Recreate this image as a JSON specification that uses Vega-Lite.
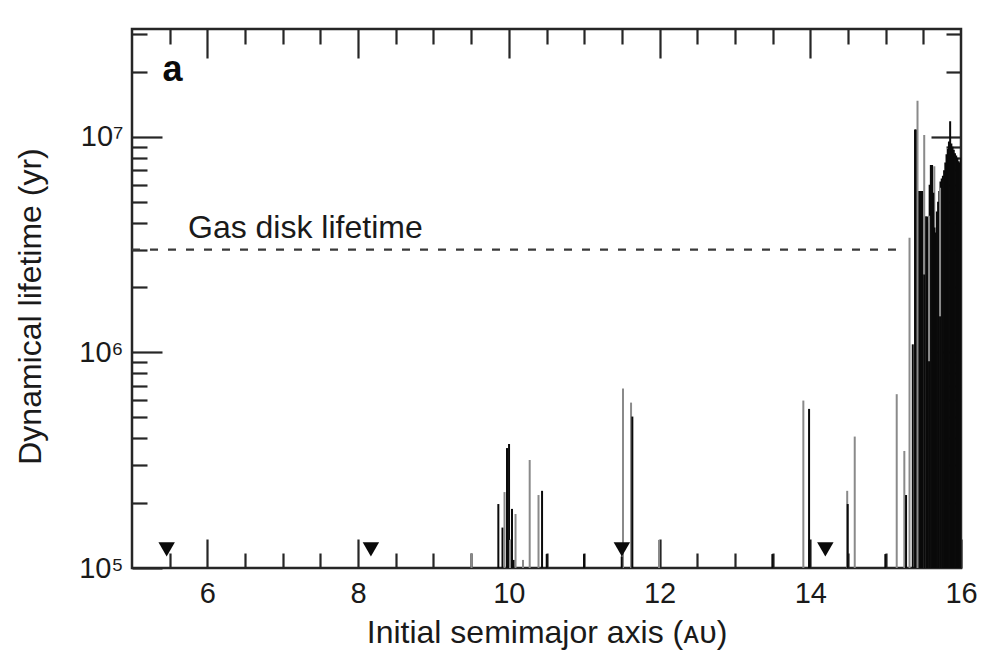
{
  "$schema": "https://vega.github.io/schema/vega-lite/v6.json",
  "width": 829,
  "height": 539,
  "autosize": {"type": "none"},
  "padding": {"left": 132, "top": 29, "right": 30, "bottom": 93},
  "background": "white",
  "config": {
    "view": {"stroke": "#262626", "strokeWidth": 2.5},
    "font": "Liberation Sans",
    "axis": {
      "domain": false,
      "grid": false,
      "tickColor": "#262626",
      "tickWidth": 2.2,
      "labelFont": "Liberation Sans",
      "labelFontSize": 29,
      "labelColor": "#1a1a1a",
      "labelFlush": false,
      "labelOverlap": false,
      "labelBound": false,
      "titleFont": "Liberation Sans",
      "titleFontSize": 32,
      "titleFontWeight": "normal",
      "titleColor": "#1a1a1a"
    }
  },
  "datasets": {
    "bars": [
      {"a": 15.646, "t": 7300000, "c": "gray"},
      {"a": 9.505, "t": 117000, "c": "gray"},
      {"a": 9.861, "t": 198000, "c": "black"},
      {"a": 9.916, "t": 154000, "c": "black"},
      {"a": 9.943, "t": 225000, "c": "gray"},
      {"a": 9.976, "t": 360000, "c": "black"},
      {"a": 10.003, "t": 376000, "c": "black"},
      {"a": 10.016, "t": 135000, "c": "gray"},
      {"a": 10.042, "t": 188000, "c": "black"},
      {"a": 10.065, "t": 109000, "c": "black"},
      {"a": 10.089, "t": 178000, "c": "gray"},
      {"a": 10.188, "t": 109000, "c": "gray"},
      {"a": 10.277, "t": 317000, "c": "gray"},
      {"a": 10.394, "t": 218000, "c": "gray"},
      {"a": 10.441, "t": 228000, "c": "black"},
      {"a": 10.503, "t": 116000, "c": "black"},
      {"a": 10.998, "t": 116000, "c": "black"},
      {"a": 11.515, "t": 680000, "c": "gray"},
      {"a": 11.498, "t": 113000, "c": "black"},
      {"a": 11.622, "t": 585000, "c": "gray"},
      {"a": 11.639, "t": 504000, "c": "black"},
      {"a": 11.993, "t": 135000, "c": "gray"},
      {"a": 13.497, "t": 116000, "c": "black"},
      {"a": 13.908, "t": 598000, "c": "gray"},
      {"a": 13.984, "t": 547000, "c": "black"},
      {"a": 13.99, "t": 135000, "c": "black"},
      {"a": 14.49, "t": 228000, "c": "gray"},
      {"a": 14.497, "t": 198000, "c": "black"},
      {"a": 14.59, "t": 407000, "c": "gray"},
      {"a": 14.996, "t": 116000, "c": "black"},
      {"a": 15.147, "t": 640000, "c": "gray"},
      {"a": 15.248, "t": 349000, "c": "gray"},
      {"a": 15.271, "t": 218000, "c": "black"},
      {"a": 15.36, "t": 1090000, "c": "black"},
      {"a": 15.39, "t": 10800000, "c": "black"},
      {"a": 15.405, "t": 10800000, "c": "black"},
      {"a": 15.44, "t": 5600000, "c": "black"},
      {"a": 15.456, "t": 5600000, "c": "black"},
      {"a": 15.472, "t": 5600000, "c": "black"},
      {"a": 15.488, "t": 5600000, "c": "black"},
      {"a": 15.504, "t": 2300000, "c": "black"},
      {"a": 15.52, "t": 4270000, "c": "black"},
      {"a": 15.536, "t": 4270000, "c": "black"},
      {"a": 15.552, "t": 4270000, "c": "black"},
      {"a": 15.568, "t": 4000000, "c": "black"},
      {"a": 15.584, "t": 6000000, "c": "black"},
      {"a": 15.6, "t": 7400000, "c": "black"},
      {"a": 15.616, "t": 7400000, "c": "black"},
      {"a": 15.632, "t": 5500000, "c": "black"},
      {"a": 15.648, "t": 3800000, "c": "black"},
      {"a": 15.664, "t": 3600000, "c": "black"},
      {"a": 15.68, "t": 4500000, "c": "black"},
      {"a": 15.696, "t": 5000000, "c": "black"},
      {"a": 15.712, "t": 5600000, "c": "black"},
      {"a": 15.728, "t": 6200000, "c": "black"},
      {"a": 15.744, "t": 6400000, "c": "black"},
      {"a": 15.76, "t": 6600000, "c": "black"},
      {"a": 15.776, "t": 7000000, "c": "black"},
      {"a": 15.792, "t": 7600000, "c": "black"},
      {"a": 15.808, "t": 8300000, "c": "black"},
      {"a": 15.824, "t": 8800000, "c": "black"},
      {"a": 15.84, "t": 9500000, "c": "black"},
      {"a": 15.856, "t": 11800000, "c": "black"},
      {"a": 15.872, "t": 9300000, "c": "black"},
      {"a": 15.888, "t": 9000000, "c": "black"},
      {"a": 15.904, "t": 8700000, "c": "black"},
      {"a": 15.92, "t": 8400000, "c": "black"},
      {"a": 15.936, "t": 8200000, "c": "black"},
      {"a": 15.952, "t": 8000000, "c": "black"},
      {"a": 15.968, "t": 7700000, "c": "black"},
      {"a": 15.984, "t": 7600000, "c": "black"},
      {"a": 16.0, "t": 8000000, "c": "black"},
      {"a": 15.317, "t": 3400000, "c": "gray"},
      {"a": 15.423, "t": 14700000, "c": "gray"},
      {"a": 15.512, "t": 10200000, "c": "gray"},
      {"a": 15.576, "t": 4300000, "c": "gray"},
      {"a": 15.722, "t": 5800000, "c": "gray"},
      {"a": 15.512, "t": 2300000, "c": "black"},
      {"a": 15.576, "t": 910000, "c": "black"},
      {"a": 15.722, "t": 1470000, "c": "black"}
    ],
    "markers": [
      {"a": 5.46, "t": 122000},
      {"a": 8.17, "t": 122000},
      {"a": 11.5, "t": 122000},
      {"a": 14.2, "t": 122000}
    ],
    "gas": [
      {"a": 5, "a2": 15.24, "t": 3000000, "label": "Gas disk lifetime", "la": 5.743}
    ]
  },
  "layer": [
    {
      "data": {"name": "bars"},
      "mark": {"type": "rule", "strokeWidth": 2, "clip": true},
      "encoding": {
        "x": {
          "field": "a",
          "type": "quantitative",
          "scale": {"domain": [5, 16], "nice": false, "zero": false},
          "axis": {
            "orient": "bottom",
            "title": "Initial semimajor axis (ᴀᴜ)",
            "titlePadding": 9,
            "values": [6, 8, 10, 12, 14, 16],
            "format": "d",
            "tickSize": -29,
            "labelPadding": 40
          }
        },
        "y": {
          "field": "t",
          "type": "quantitative",
          "scale": {"type": "log", "domain": [100000, 31623000], "nice": false},
          "axis": {
            "orient": "left",
            "title": "Dynamical lifetime (yr)",
            "titlePadding": 31,
            "titleY": 277,
            "values": [100000, 1000000, 10000000],
            "labelExpr": "datum.value == 100000 ? '10⁵' : datum.value == 1000000 ? '10⁶' : '10⁷'",
            "tickSize": -30,
            "labelPadding": 39
          }
        },
        "y2": {"datum": 100000},
        "color": {
          "field": "c",
          "type": "nominal",
          "scale": {"domain": ["black", "gray"], "range": ["#0a0a0a", "#8a8a8a"]},
          "legend": null
        }
      }
    },
    {
      "data": {"name": "markers"},
      "mark": {"type": "point", "shape": "triangle-down", "filled": true, "size": 270, "color": "#0a0a0a", "opacity": 1},
      "encoding": {
        "x": {
          "field": "a",
          "type": "quantitative",
          "axis": {
            "orient": "top",
            "title": null,
            "labels": false,
            "values": [6, 8, 10, 12, 14],
            "tickSize": -29
          }
        },
        "y": {
          "field": "t",
          "type": "quantitative",
          "axis": {
            "orient": "right",
            "title": null,
            "labels": false,
            "values": [1000000, 10000000],
            "tickSize": -30
          }
        }
      }
    },
    {
      "data": {"name": "gas"},
      "mark": {"type": "rule", "strokeDash": [8, 10], "strokeWidth": 2.2, "color": "#3a3a3a"},
      "encoding": {
        "x": {
          "field": "a",
          "type": "quantitative",
          "axis": {
            "orient": "bottom",
            "title": null,
            "labels": false,
            "values": [5.5, 6.5, 7, 7.5, 8.5, 9, 9.5, 10.5, 11, 11.5, 12.5, 13, 13.5, 14.5, 15, 15.5],
            "tickSize": -15
          }
        },
        "x2": {"field": "a2"},
        "y": {
          "field": "t",
          "type": "quantitative",
          "axis": {
            "orient": "left",
            "title": null,
            "labels": false,
            "values": [200000, 300000, 400000, 500000, 600000, 700000, 800000, 900000, 2000000, 3000000, 4000000, 5000000, 6000000, 7000000, 8000000, 9000000, 20000000, 30000000],
            "tickSize": -15
          }
        }
      }
    },
    {
      "data": {"name": "gas"},
      "mark": {"type": "text", "align": "left", "baseline": "alphabetic", "fontSize": 32, "font": "Liberation Sans", "color": "#1a1a1a", "dy": -11.5},
      "encoding": {
        "text": {"field": "label"},
        "x": {
          "field": "la",
          "type": "quantitative",
          "axis": {
            "orient": "top",
            "title": null,
            "labels": false,
            "values": [5.5, 6.5, 7, 7.5, 8.5, 9, 9.5, 10.5, 11, 11.5, 12.5, 13, 13.5, 14.5, 15, 15.5],
            "tickSize": -15
          }
        },
        "y": {
          "field": "t",
          "type": "quantitative",
          "axis": {
            "orient": "right",
            "title": null,
            "labels": false,
            "values": [200000, 300000, 400000, 500000, 600000, 700000, 800000, 900000, 2000000, 3000000, 4000000, 5000000, 6000000, 7000000, 8000000, 9000000, 20000000, 30000000],
            "tickSize": -15
          }
        }
      }
    },
    {
      "data": {"values": [{}]},
      "mark": {"type": "text", "text": "a", "align": "left", "baseline": "alphabetic", "fontSize": 36, "fontWeight": "bold", "font": "Liberation Sans", "color": "#0a0a0a"},
      "encoding": {
        "x": {"datum": 5.405, "type": "quantitative", "axis": null},
        "y": {"datum": 18060000, "type": "quantitative", "axis": null}
      }
    }
  ],
  "resolve": {"axis": {"x": "independent", "y": "independent"}}
}
